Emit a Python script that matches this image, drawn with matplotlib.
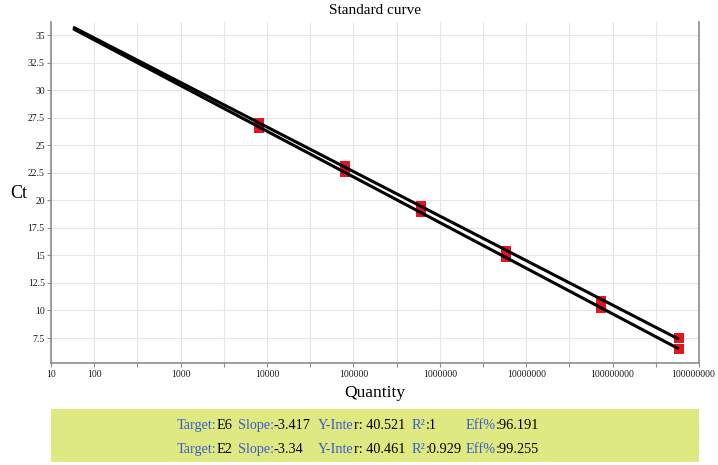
import numpy as np
import matplotlib.pyplot as plt
import matplotlib.transforms as mtransforms
from matplotlib.patches import Rectangle
from matplotlib.ticker import FixedLocator, FixedFormatter

# Quantities (display axis is log10 with the odd "10" tick at 10^1.5)
quantity = [8080, 80000, 605000, 5.84e6, 7.35e7, 5.87e8]
ct_e6 = [27.0, 23.1, 19.5, 15.4, 10.9, 7.5]
ct_e2 = [26.6, 22.6, 18.9, 14.85, 10.2, 6.5]
line_start = 57  # fitted lines drawn from here

x_tick_vals = [10**1.5, 1e2, 1e3, 1e4, 1e5, 1e6, 1e7, 1e8, 1e9]
x_tick_labels = ['10', '100', '1000', '10000', '100000', '1000000',
                 '10000000', '100000000', '100000000']
y_ticks = [7.5, 10, 12.5, 15, 17.5, 20, 22.5, 25, 27.5, 30, 32.5, 35]

targets = ['E6', 'E2']
slopes = ['-3.417', '-3.34']
intercepts = ['40.521', '40.461']
r2_vals = ['1', '0.929']
effs = ['96.191', '99.255']

serif = 'Liberation Serif'
blue = '#3a5ccc'

fig = plt.figure(figsize=(7.18, 4.65), dpi=100)
ax = fig.add_axes([51/718, 1 - 363/465, 648/718, 341/465])

# fitted lines in log space
lx = np.log10(quantity)
for ct in (ct_e6, ct_e2):
    k, b = np.polyfit(lx, ct, 1)
    xs = np.array([np.log10(line_start), lx[-1]])
    ax.plot(10**xs, k * xs + b, color='black', lw=2.2, zorder=3, solid_capstyle='butt')

ax.plot(quantity, ct_e6, 's', color='#e8141c', ms=6.5, mew=0, zorder=2)
ax.plot(quantity, ct_e2, 's', color='#e8141c', ms=6.5, mew=0, zorder=2)

ax.set_xscale('log')
ax.set_xlim(10**1.5, 1e9)
ax.set_ylim(5.23, 36.2)
ax.xaxis.set_major_locator(FixedLocator(x_tick_vals))
ax.xaxis.set_major_formatter(FixedFormatter(x_tick_labels))
ax.xaxis.set_minor_locator(FixedLocator([10**(e + 0.5) for e in range(2, 9)]))
ax.xaxis.set_minor_formatter(FixedFormatter([]))
ax.set_yticks(y_ticks)
ax.set_yticklabels(['%g' % v for v in y_ticks])

ax.grid(True, which='both', color='#e3e7ea', lw=0.8, zorder=0)
ax.set_axisbelow(True)
for side in ('left', 'bottom', 'right'):
    ax.spines[side].set_color('#8c8c8c')
    ax.spines[side].set_linewidth(1.2)
ax.spines['top'].set_visible(False)
ax.tick_params(which='both', direction='out', length=3, color='#8c8c8c', width=0.8,
               labelsize=7, labelcolor='#1a1a1a')
ax.tick_params(axis='y', pad=1.5)
ax.tick_params(axis='x', pad=2)
for lab in ax.get_xticklabels() + ax.get_yticklabels():
    lab.set_family(serif)

# the last label sits a little inside the right edge in the original
last = ax.get_xticklabels()[-1]
last.set_transform(last.get_transform() +
                   mtransforms.ScaledTranslation(-6/100, 0, fig.dpi_scale_trans))

fig.text(375/718, 1 - 10/465, 'Standard curve', ha='center', va='center',
         family=serif, fontsize=11)
fig.text(19/718, 1 - 193/465, 'Ct', ha='center', va='center', family=serif, fontsize=13)
fig.text(375/718, 1 - 393/465, 'Quantity', ha='center', va='center', family=serif, fontsize=12.5)

# summary box
fig.patches.append(Rectangle((51/718, 1 - 462/465), 648/718, 53/465,
                             transform=fig.transFigure, facecolor='#dfe982',
                             edgecolor='none'))

fig.canvas.draw()
renderer = fig.canvas.get_renderer()


def put_pieces(x_px, y_px, pieces):
    x = x_px
    for txt, col in pieces:
        t = fig.text(x / 718, 1 - y_px / 465, txt, color=col, family=serif,
                     fontsize=10.3, va='center', ha='left')
        x += t.get_window_extent(renderer).width


for i, tgt in enumerate(targets):
    y = 425 + 24 * i
    put_pieces(177, y, [('Target:', blue), (tgt, 'black')])
    put_pieces(238, y, [('Slope:', blue), (slopes[i], 'black')])
    put_pieces(318, y, [('Y-Inte', blue), ('r: ' + intercepts[i], 'black')])
    put_pieces(412, y, [('R\u00b2', blue), (':' + r2_vals[i], 'black')])
    put_pieces(466, y, [('Eff%', blue), (':' + effs[i], 'black')])

fig.savefig('out.png', dpi=100)
